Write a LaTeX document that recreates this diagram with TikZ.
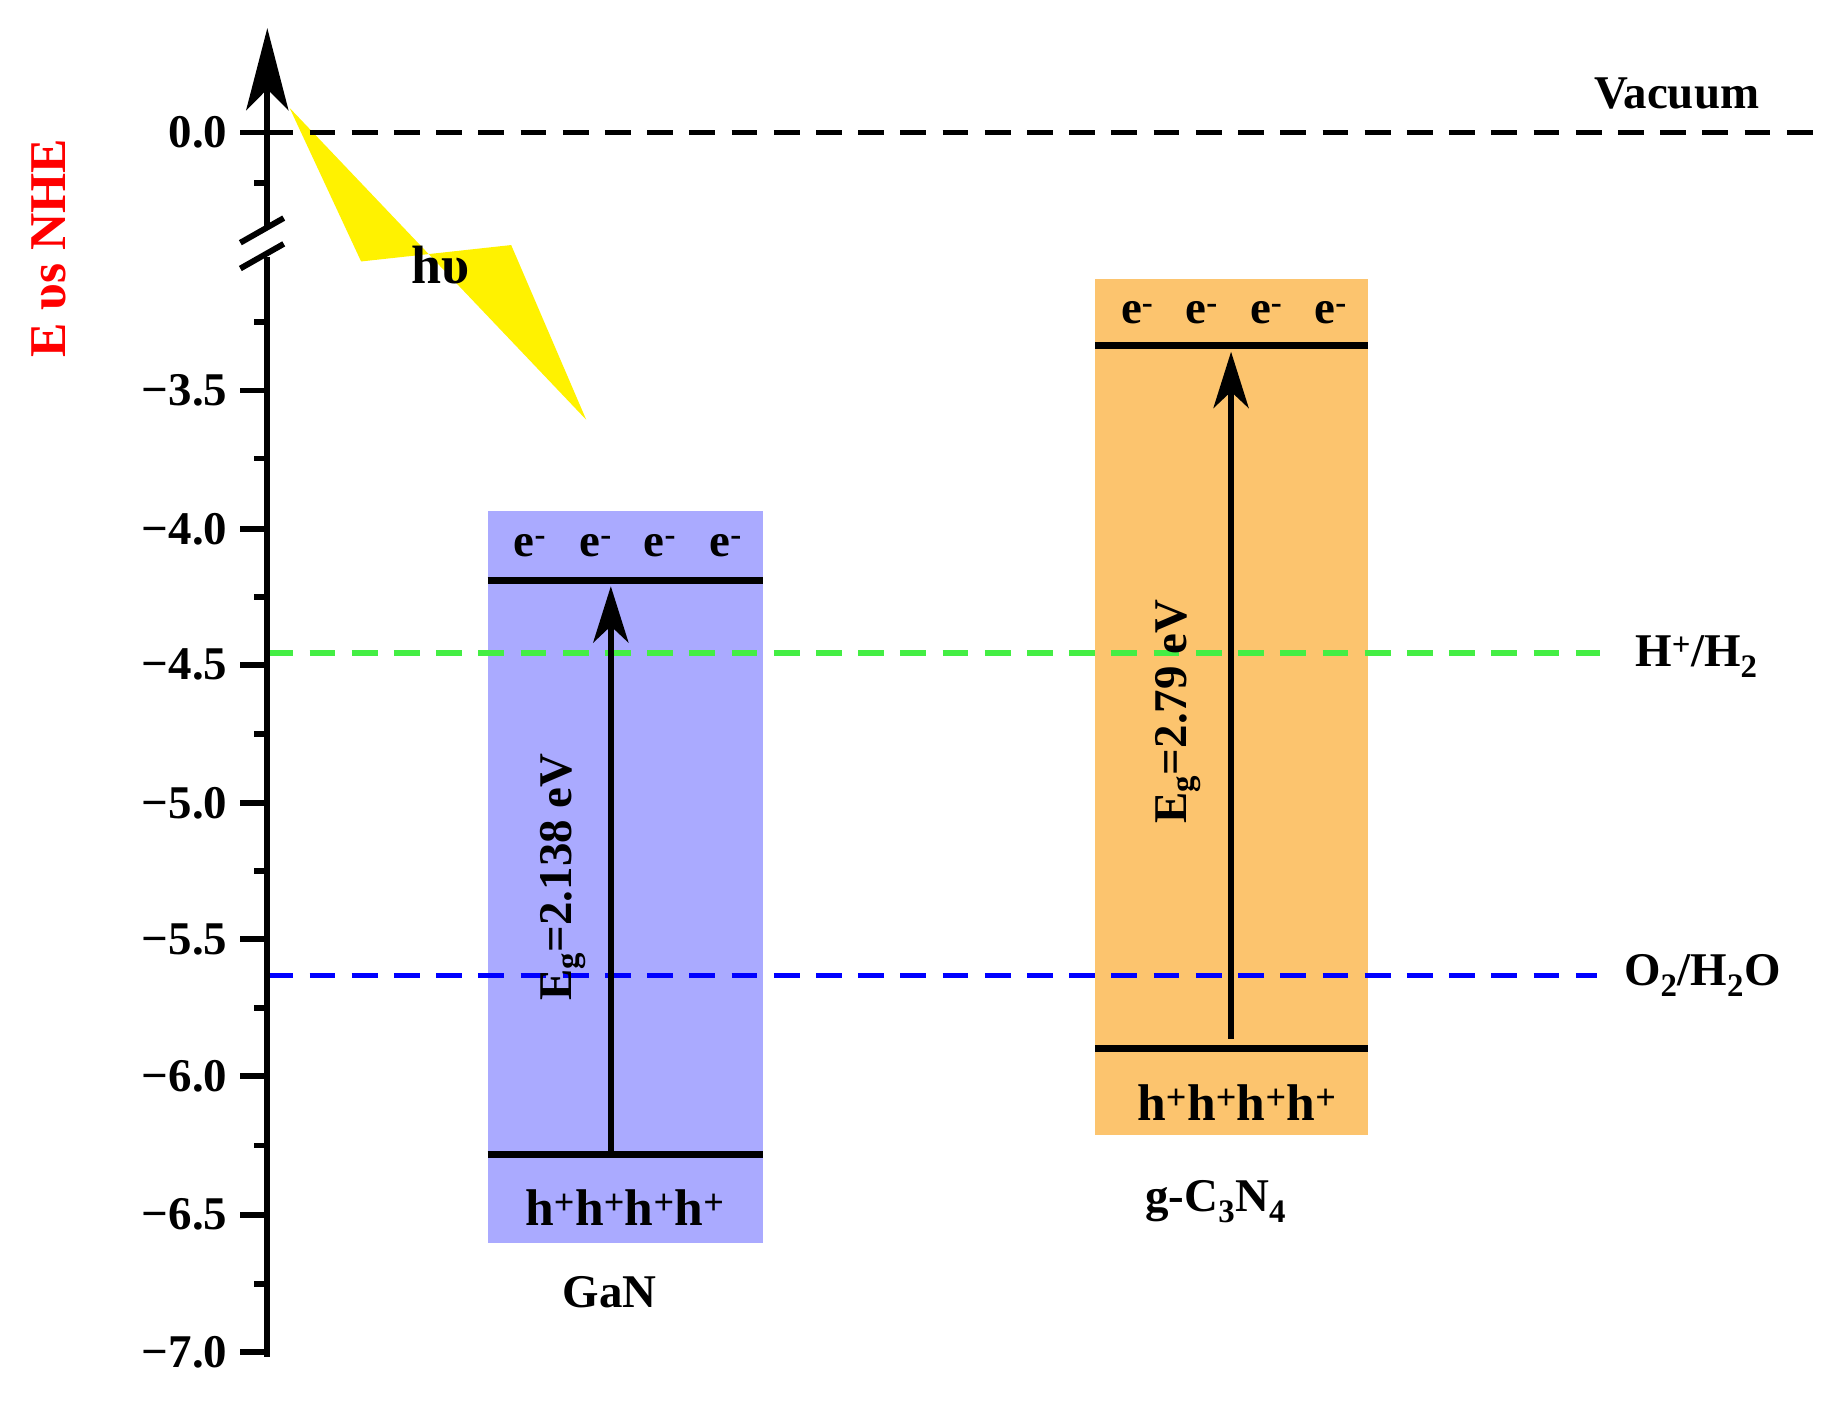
\documentclass[tikz,border=0pt]{standalone}
\usepackage{fontspec}
\setmainfont{Liberation Serif}
\usetikzlibrary{arrows.meta}
\begin{document}
\begin{tikzpicture}[x=1pt,y=-1pt,
  lab/.style={font=\fontsize{40}{40}\selectfont\bfseries, inner sep=0pt},
  band/.style={line width=6pt},
  dashln/.style={line width=5pt, dash pattern=on 22pt off 14pt},
  tick/.style={line width=5pt},
  egarrow/.style={line width=5pt,-{Stealth[length=48pt,width=30pt,inset=14pt]}}]
\useasboundingbox (0,0) rectangle (1560,1195);
% boxes
\fill[fill={rgb,255:red,170;green,170;blue,255}] (416,436) rectangle (651,1060);
\fill[fill={rgb,255:red,252;green,196;blue,110}] (934,238) rectangle (1167,968);
% lightning
\fill[yellow] (247,92) -- (308,223) -- (436,209) -- (500,358) -- cycle;
\node[lab, font=\fontsize{46}{46}\selectfont\bfseries] (hv) at (376,226) {hυ};
% dashed lines
\coordinate (v0) at (228,113); \coordinate (v1) at (1552,113);
\draw[dashln,black] (v0) -- (v1);
\coordinate (g0) at (228,557); \coordinate (g1) at (1365,557);
\draw[dashln,color={rgb,255:red,68;green,238;blue,68}] (g0) -- (g1);
\coordinate (b0) at (228,832); \coordinate (b1) at (1362,832);
\draw[dashln,color={rgb,255:red,0;green,0;blue,255}] (b0) -- (b1);
\node[lab] (vac) at (1430,80) {Vacuum};
\node[lab] (hh) at (1447,560) {H\textsuperscript{+}/H\textsubscript{2}};
\node[lab] (oo) at (1452,832) {O\textsubscript{2}/H\textsubscript{2}O};
% axis
\coordinate (ab) at (228,1157); \coordinate (at) at (228,24);
\draw[line width=5pt,-{Stealth[length=70pt,width=36pt,inset=18pt]}] (ab) -- (at);
\foreach \y/\t in {113/0.0,333/−3.5,451/−4.0,567/−4.5,685/−5.0,801/−5.5,918/−6.0,1036/−6.5,1153/−7.0}{
  \draw[tick] (205,\y) -- (228,\y);
  \node[lab,anchor=east] at (194,\y) {\t};}
\foreach \y in {156,275,391,509,626,743,860,977,1095}{
  \draw[tick] (217,\y) -- (228,\y);}
\fill[white] (222,193) rectangle (234,219);
\draw[line width=5pt] (205,207) -- (242,186);
\draw[line width=5pt] (205,229) -- (242,208);
\node[text=red, font=\fontsize{44}{44}\selectfont\bfseries, rotate=90, inner sep=0pt] (ylab) at (42,212) {E υs NHE};
% GaN
\draw[band] (416,495) -- (651,495);
\draw[band] (416,985) -- (651,985);
\coordinate (ga0) at (521,985); \coordinate (ga1) at (521,500);
\draw[egarrow] (ga0) -- (ga1);
\foreach \x in {452,508,563,619}{\node[lab] at (\x,465) {e\textsuperscript{-}};}
\node[lab, font=\fontsize{44}{44}\selectfont\bfseries] (hg) at (533,1030) {h\textsuperscript{+}h\textsuperscript{+}h\textsuperscript{+}h\textsuperscript{+}};
\node[lab,rotate=90] (eg1) at (480,748) {E\textsubscript{g}=2.138 eV};
\node[lab] (gan) at (520,1102) {GaN};
% g-C3N4
\draw[band] (934,295) -- (1167,295);
\draw[band] (934,894) -- (1167,894);
\coordinate (gc0) at (1050,886); \coordinate (gc1) at (1050,300);
\draw[egarrow] (gc0) -- (gc1);
\foreach \x in {970,1025,1080,1135}{\node[lab] at (\x,267) {e\textsuperscript{-}};}
\node[lab, font=\fontsize{44}{44}\selectfont\bfseries] (hc) at (1055,940) {h\textsuperscript{+}h\textsuperscript{+}h\textsuperscript{+}h\textsuperscript{+}};
\node[lab,rotate=90] (eg2) at (1005,607) {E\textsubscript{g}=2.79 eV};
\node[lab] (cn) at (1037,1025) {g-C\textsubscript{3}N\textsubscript{4}};
\end{tikzpicture}
\end{document}
